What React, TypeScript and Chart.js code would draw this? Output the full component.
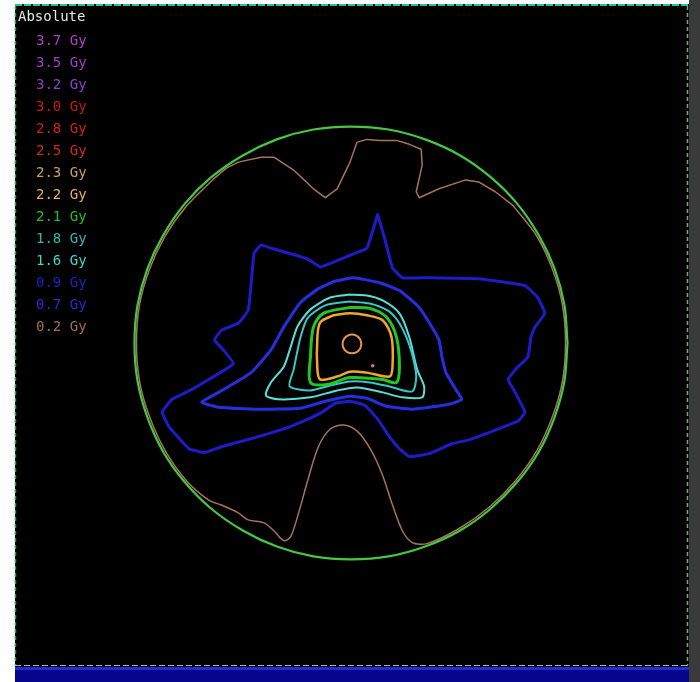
import React, { useEffect, useRef } from "react";
import { Chart, registerables } from "chart.js";

Chart.register(...registerables);

// ---- Legend (dose levels) ----
const legendTitle = "Absolute";
const doseLevels = ["3.7 Gy", "3.5 Gy", "3.2 Gy", "3.0 Gy", "2.8 Gy", "2.5 Gy", "2.3 Gy", "2.2 Gy", "2.1 Gy", "1.8 Gy", "1.6 Gy", "0.9 Gy", "0.7 Gy", "0.2 Gy"];
const doseColors = ["#b040c8", "#a040c8", "#9040c8", "#c81c1c", "#d02222", "#d02828", "#c8a060", "#e8b060", "#20c020", "#30b8b8", "#40d8c8", "#2020c0", "#2030d0", "#a07050"];

// ---- Contours (image grid coordinates, x right, y down) ----
const phantomOutline: [number, number][] = [
  [570, 343], [567, 305], [557, 268], [541, 234], [519, 202], [492, 175], [461, 153], [426, 137], [389, 127], [351, 124],
  [313, 127], [276, 137], [242, 153], [210, 175], [183, 202], [161, 234], [145, 268], [135, 305], [132, 343],
  [135, 381], [145, 418], [161, 453], [183, 484], [210, 511], [242, 533], [276, 549], [313, 559], [351, 562],
  [389, 559], [426, 549], [461, 533], [492, 511], [519, 484], [541, 453], [557, 418], [567, 381], [570, 343],
];

// 0.2 Gy: upper (jagged) part
const iso02Upper: [number, number][] = [
  [212, 177], [225, 166], [237, 160], [260, 155], [273, 155], [293, 168], [313, 187], [325, 196], [337, 187], [350, 160],
  [357, 140], [367, 137], [380, 138], [397, 138], [410, 142], [422, 147], [423, 163], [417, 190], [420, 196], [440, 187],
  [467, 178], [480, 180], [497, 190], [515, 204],
];
// 0.2 Gy: sides and lower part (smooth)
const iso02Lower: [number, number][] = [
  [515, 204], [539, 235], [555, 269], [565, 305], [568, 343], [565, 381], [555, 417],
  [539, 452], [517, 483], [491, 509], [460, 531], [428, 546], [413, 545], [403, 533], [393, 507], [383, 477], [371, 451],
  [357, 432], [343, 426], [330, 430], [318, 448], [307, 483], [298, 515], [290, 539], [283, 543], [273, 533], [263, 525],
  [247, 522], [237, 515], [220, 507], [207, 502], [185, 483], [163, 452], [147, 417], [137, 381], [134, 343], [137, 305],
  [147, 269], [163, 235], [185, 204], [212, 177],
];

const iso07: [number, number][] = [
  [378, 213], [385, 237], [393, 267], [403, 277], [430, 277], [480, 278], [527, 285], [540, 297], [547, 313], [537, 327],
  [533, 337], [530, 357], [517, 370], [510, 380], [517, 393], [527, 413], [520, 422], [487, 435], [470, 441], [453, 445],
  [430, 455], [410, 458], [400, 450], [390, 438], [378, 420], [365, 406], [350, 402], [335, 404], [322, 413], [303, 422],
  [280, 431], [253, 439], [220, 448], [203, 454], [187, 450], [167, 428], [160, 413], [170, 400], [190, 390], [207, 380],
  [232, 364], [222, 350], [213, 340], [220, 330], [237, 323], [247, 310], [250, 283], [253, 252], [260, 244], [270, 247],
  [307, 258], [320, 266], [353, 253], [367, 247], [378, 213],
];

const iso09: [number, number][] = [
  [333, 281], [353, 277], [380, 282], [400, 290], [420, 307], [433, 327], [440, 340], [443, 357], [447, 373], [457, 390],
  [463, 400], [450, 405], [413, 410], [387, 407], [367, 399], [350, 397], [325, 402], [300, 409], [257, 410], [217, 408],
  [200, 403], [217, 393], [250, 373], [270, 350], [283, 327], [300, 302], [318, 288], [333, 281],
];

const iso16: [number, number][] = [
  [350, 294], [330, 297], [310, 309], [297, 326], [290, 347], [283, 367], [270, 383], [265, 396], [277, 400], [310, 398],
  [337, 391], [357, 388], [383, 393], [403, 398], [423, 398], [425, 387], [418, 370], [410, 337], [400, 313], [383, 300],
  [367, 295], [350, 294],
];

const iso18: [number, number][] = [
  [350, 301], [325, 305], [307, 318], [300, 337], [296, 355], [293, 370], [289, 387], [310, 391], [330, 386], [350, 382],
  [370, 383], [390, 387], [413, 392], [417, 377], [413, 355], [407, 337], [398, 320], [388, 310], [370, 303], [350, 301],
];

const iso21: [number, number][] = [
  [350, 307], [323, 313], [313, 327], [310, 357], [310, 383], [327, 385], [350, 378], [383, 380], [397, 383], [400, 367],
  [397, 337], [387, 317], [370, 308], [350, 307],
];

const iso22: [number, number][] = [
  [333, 315], [320, 322], [317, 337], [317, 370], [320, 380], [337, 377], [350, 372], [367, 373], [390, 377], [393, 367],
  [392, 337], [383, 320], [367, 315], [350, 313], [333, 315],
];

const iso23: [number, number][] = [
  [361.5, 344], [360.2, 339.2], [356.8, 335.8], [352, 334.5], [347.2, 335.8], [343.8, 339.2], [342.5, 344],
  [343.8, 348.8], [347.2, 352.2], [352, 353.5], [356.8, 352.2], [360.2, 348.8], [361.5, 344],
];

const hotSpot: [number, number][] = [[373, 366]];

const toXY = (pts: [number, number][]) => pts.map(([x, y]) => ({ x, y }));

const panelPlugin = {
  id: "panel",
  beforeDraw(chart: any) {
    const ctx = chart.ctx as CanvasRenderingContext2D;
    ctx.save();
    ctx.fillStyle = "#ffffff";
    ctx.fillRect(0, 0, 700, 682);
    ctx.fillStyle = "#000000";
    ctx.fillRect(15, 4, 674, 664);
    ctx.fillStyle = "#3a3a3a";
    ctx.fillRect(689, 0, 11, 682);
    // bottom blue bar
    ctx.fillStyle = "#06068c";
    ctx.fillRect(15, 667, 674, 15);
    ctx.fillStyle = "#2030d0";
    ctx.fillRect(15, 667, 674, 3);
    // top border
    ctx.lineWidth = 2;
    ctx.strokeStyle = "#1fc89a";
    ctx.setLineDash([7, 2]);
    ctx.beginPath();
    ctx.moveTo(15, 5);
    ctx.lineTo(689, 5);
    ctx.stroke();
    // left border
    ctx.lineWidth = 1.5;
    ctx.strokeStyle = "#2aa040";
    ctx.setLineDash([4, 3]);
    ctx.beginPath();
    ctx.moveTo(15.5, 6);
    ctx.lineTo(15.5, 666);
    ctx.stroke();
    // right border
    ctx.strokeStyle = "#70b080";
    ctx.beginPath();
    ctx.moveTo(687.5, 6);
    ctx.lineTo(687.5, 666);
    ctx.stroke();
    // bottom dashed
    ctx.strokeStyle = "#a8b8a8";
    ctx.lineWidth = 1;
    ctx.setLineDash([6, 3]);
    ctx.beginPath();
    ctx.moveTo(15, 665.5);
    ctx.lineTo(688, 665.5);
    ctx.stroke();
    ctx.restore();
  },
  afterDraw(chart: any) {
    const ctx = chart.ctx as CanvasRenderingContext2D;
    ctx.save();
    ctx.font = "14px 'DejaVu Sans Mono', monospace";
    ctx.textBaseline = "middle";
    ctx.textAlign = "left";
    ctx.fillStyle = "#e8e8e8";
    ctx.fillText(legendTitle, 18, 17);
    doseLevels.forEach((lbl, i) => {
      ctx.fillStyle = doseColors[i];
      ctx.fillText(lbl, 36, 41 + i * 22);
    });
    ctx.restore();
  },
};

function line(label: string, pts: [number, number][], color: string, width: number, tension = 0) {
  return {
    label,
    data: toXY(pts),
    showLine: true,
    borderColor: color,
    backgroundColor: color,
    borderWidth: width,
    pointRadius: 0,
    fill: false,
    tension,
    borderJoinStyle: "round" as const,
    borderCapStyle: "round" as const,
  };
}

export default function App() {
  const ref = useRef<HTMLCanvasElement>(null);
  useEffect(() => {
    if (!ref.current) return;
    const chart = new Chart(ref.current, {
      type: "scatter",
      data: {
        datasets: [
          line("2.3 Gy", iso23, "#e89848", 2, 0.4),
          {
            label: "hot spot",
            data: toXY(hotSpot),
            showLine: false,
            pointRadius: 1.8,
            backgroundColor: "#c88060",
            borderColor: "#c88060",
            borderWidth: 0,
          } as any,
          line("2.2 Gy", iso22, "#f0a828", 2.5, 0.3),
          line("2.1 Gy", iso21, "#22c822", 3, 0.3),
          line("1.8 Gy", iso18, "#38c8c8", 2, 0.25),
          line("1.6 Gy", iso16, "#58e0d8", 2, 0.25),
          line("0.9 Gy", iso09, "#2430e0", 3, 0.15),
          line("0.7 Gy", iso07, "#1c1cc8", 3, 0.1),
          line("Phantom", phantomOutline, "#44c844", 2.2, 0.3),
          line("0.2 Gy", iso02Upper, "#a87458", 1.5, 0),
          line("0.2 Gy", iso02Lower, "#a87458", 1.5, 0.3),
        ],
      },
      options: {
        responsive: false,
        animation: false,
        devicePixelRatio: 1,
        layout: { padding: 0 },
        scales: {
          x: { type: "linear", min: 0, max: 700, display: false },
          y: { type: "linear", min: 0, max: 682, reverse: true, display: false },
        },
        plugins: { legend: { display: false }, tooltip: { enabled: false } },
      },
      plugins: [panelPlugin],
    });
    return () => chart.destroy();
  }, []);
  return (
    <div style={{ position: "fixed", left: 0, top: 0, width: 700, height: 682 }}>
      <canvas ref={ref} width={700} height={682} style={{ display: "block", width: 700, height: 682 }} />
    </div>
  );
}
